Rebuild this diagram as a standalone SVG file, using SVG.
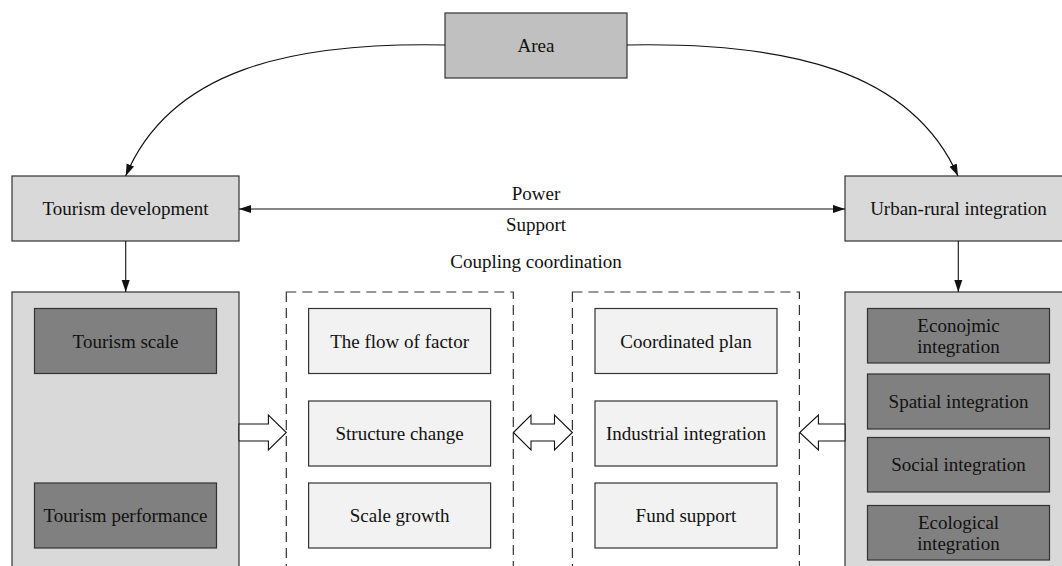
<svg xmlns="http://www.w3.org/2000/svg" width="1062" height="566" viewBox="0 0 1062 566" font-family="'Liberation Serif', 'Times New Roman', Times, serif">
<style>
text{font-family:'Liberation Serif','Times New Roman',Times,serif;font-size:19px;fill:#111;text-anchor:middle}
.b{stroke:#333;stroke-width:1.2}
.l1{fill:#d9d9d9}
.dk{fill:#808080}
.lt{fill:#f2f2f2}
.dash{fill:none;stroke:#333;stroke-width:1.2;stroke-dasharray:10,6}
.con{fill:none;stroke:#111;stroke-width:1.1}
.hol{fill:#fff;stroke:#111;stroke-width:1.1}
</style>
<defs>
<marker id="ah" viewBox="0 0 12 10" refX="12" refY="5" markerWidth="12" markerHeight="10" markerUnits="userSpaceOnUse" orient="auto-start-reverse">
<path d="M0,1 L12,5 L0,9 z" fill="#111"/>
</marker>
</defs>
<rect width="1062" height="566" fill="#fff"/>
<g id="area"><rect class="b" x="445" y="13" width="182" height="65" fill="#c0c0c0"/><text x="536" y="52">Area</text></g>
<g id="tourism-development"><rect class="b l1" x="12" y="176" width="227" height="65"/><text x="125.5" y="215">Tourism development</text></g>
<g id="urban-rural-integration"><rect class="b l1" x="845" y="176" width="227" height="65"/><text x="958.5" y="215">Urban-rural integration</text></g>
<g id="tourism-group"><rect class="b l1" x="12" y="292" width="227" height="290"/>
<g id="tourism-scale"><rect class="b dk" x="34.5" y="308.5" width="182" height="65"/><text x="125.5" y="347.5">Tourism scale</text></g>
<g id="tourism-performance"><rect class="b dk" x="34.5" y="483" width="182" height="65"/><text x="125.5" y="522">Tourism performance</text></g>
</g>
<g id="urban-group"><rect class="b l1" x="845" y="292" width="227" height="290"/>
<g id="economic"><rect class="b dk" x="867.5" y="308.5" width="182" height="54.5"/><text x="958.5" y="332">Econojmic</text><text x="958.5" y="353">integration</text></g>
<g id="spatial"><rect class="b dk" x="867.5" y="374" width="182" height="55"/><text x="958.5" y="408">Spatial integration</text></g>
<g id="social"><rect class="b dk" x="867.5" y="437.5" width="182" height="54.5"/><text x="958.5" y="471">Social integration</text></g>
<g id="ecological"><rect class="b dk" x="867.5" y="505.5" width="182" height="54.5"/><text x="958.5" y="529">Ecological</text><text x="958.5" y="550">integration</text></g>
</g>
<g id="left-dashed"><rect class="dash" x="286.3" y="292" width="227" height="290"/>
<g id="flow"><rect class="b lt" x="308.6" y="308.5" width="182" height="65"/><text x="399.6" y="347.5">The flow of factor</text></g>
<g id="structure"><rect class="b lt" x="308.6" y="401" width="182" height="65"/><text x="399.6" y="440">Structure change</text></g>
<g id="scale-growth"><rect class="b lt" x="308.6" y="483" width="182" height="65"/><text x="399.6" y="522">Scale growth</text></g>
</g>
<g id="right-dashed"><rect class="dash" x="572.4" y="292" width="227" height="290"/>
<g id="plan"><rect class="b lt" x="595" y="308.5" width="182" height="65"/><text x="686" y="347.5">Coordinated plan</text></g>
<g id="industrial"><rect class="b lt" x="595" y="401" width="182" height="65"/><text x="686" y="440">Industrial integration</text></g>
<g id="fund"><rect class="b lt" x="595" y="483" width="182" height="65"/><text x="686" y="522">Fund support</text></g>
</g>
<g id="connectors">
<path class="con" d="M445,45 C290,42 170,70 125.7,176" marker-end="url(#ah)"/>
<path class="con" d="M627,45 C787,42 911,70 958,176" marker-end="url(#ah)"/>
<line class="con" x1="239" y1="209" x2="845" y2="209" marker-start="url(#ah)" marker-end="url(#ah)"/>
<line class="con" x1="125.7" y1="241" x2="125.7" y2="292" marker-end="url(#ah)"/>
<line class="con" x1="958.3" y1="241" x2="958.3" y2="292" marker-end="url(#ah)"/>
<polygon class="hol" points="239,424 268.4,424 268.4,415 286.3,432.5 268.4,450 268.4,441 239,441"/>
<polygon class="hol" points="845,424 818.4,424 818.4,415 799.7,432.5 818.4,450 818.4,441 845,441"/>
<polygon class="hol" points="513.4,432.5 531,415 531,424 554.5,424 554.5,415 572.4,432.5 554.5,450 554.5,441 531,441 531,450"/>
<text x="536" y="200">Power</text>
<text x="536" y="231">Support</text>
<text x="536" y="268">Coupling coordination</text>
</g>
</svg>
